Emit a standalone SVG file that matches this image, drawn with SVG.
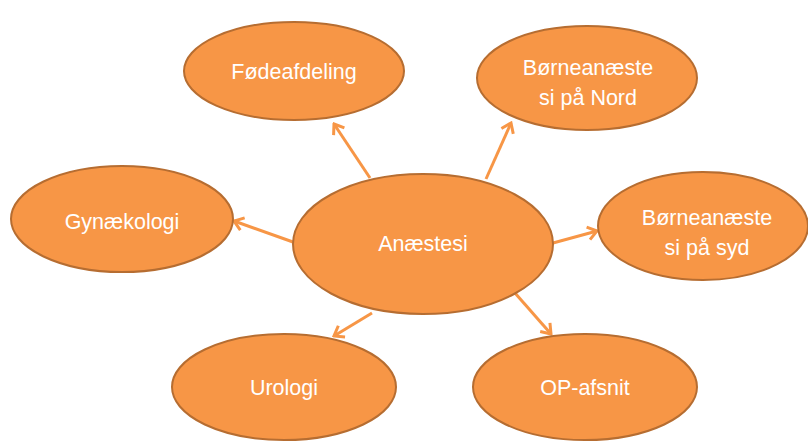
<svg xmlns="http://www.w3.org/2000/svg" width="808" height="442" viewBox="0 0 808 442">
<style>
.n ellipse{fill:#F79646;stroke:#B66D31;stroke-width:2}
.n text{font-family:"Liberation Sans",Arial,sans-serif;font-size:21.5px;fill:#FFFFFF;text-anchor:middle}
.c line{stroke:#F79646;stroke-width:3;marker-end:url(#ah)}
</style>
<defs>
<marker id="ah" markerUnits="userSpaceOnUse" markerWidth="16" markerHeight="16" viewBox="0 0 16 16" refX="14" refY="8" orient="auto">
<path d="M5,1.5 L14,8 L5,14.5" fill="none" stroke="#F79646" stroke-width="3"/>
</marker>
</defs>
<rect width="808" height="442" fill="#FFFFFF"/>
<g class="c" id="connectors">
<line x1="370" y1="178" x2="334" y2="124"/>
<line x1="486" y1="179" x2="511" y2="123"/>
<line x1="293" y1="242" x2="234" y2="221"/>
<line x1="553" y1="243" x2="597" y2="231"/>
<line x1="515" y1="293" x2="551" y2="334"/>
<line x1="372" y1="313" x2="334" y2="336"/>
</g>
<g class="n" id="anaestesi"><ellipse cx="423" cy="244" rx="130" ry="70"/><text x="423" y="251">Anæstesi</text></g>
<g class="n" id="foedeafdeling"><ellipse cx="294" cy="71" rx="110" ry="49"/><text x="294" y="79">Fødeafdeling</text></g>
<g class="n" id="nord"><ellipse cx="587" cy="78" rx="110" ry="52"/><text x="588" y="75">Børneanæste</text><text x="588" y="105">si på Nord</text></g>
<g class="n" id="gynaekologi"><ellipse cx="122" cy="219" rx="111" ry="53"/><text x="122" y="229">Gynækologi</text></g>
<g class="n" id="syd"><ellipse cx="703" cy="226" rx="105" ry="54"/><text x="707" y="225">Børneanæste</text><text x="707" y="255">si på syd</text></g>
<g class="n" id="urologi"><ellipse cx="284" cy="387" rx="112" ry="53"/><text x="284" y="395">Urologi</text></g>
<g class="n" id="opafsnit"><ellipse cx="585" cy="387" rx="112" ry="53"/><text x="585" y="395">OP-afsnit</text></g>
</svg>
